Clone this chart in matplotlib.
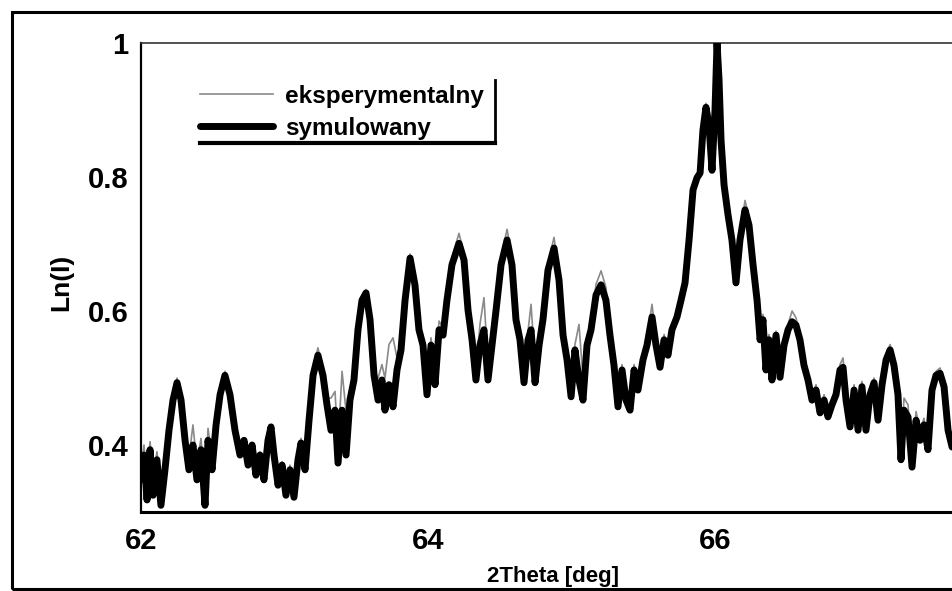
import matplotlib
matplotlib.use("Agg")
import matplotlib.pyplot as plt
from matplotlib.lines import Line2D
from matplotlib.patches import Rectangle

plt.rcParams['font.family'] = ['Liberation Sans', 'DejaVu Sans']
plt.rcParams['font.weight'] = 'bold'

# ---- data ----
two_theta = [
    62.000, 62.021, 62.042, 62.063, 62.084, 62.111, 62.139, 62.167, 62.195, 62.223,
    62.251, 62.279, 62.307, 62.334, 62.362, 62.390, 62.418, 62.446, 62.467, 62.495,
    62.523, 62.551, 62.585, 62.620, 62.655, 62.690, 62.718, 62.746, 62.774, 62.801,
    62.829, 62.857, 62.885, 62.906, 62.927, 62.955, 62.983, 63.010, 63.038, 63.066,
    63.094, 63.115, 63.143, 63.171, 63.199, 63.233, 63.268, 63.296, 63.324, 63.352,
    63.373, 63.401, 63.429, 63.456, 63.484, 63.512, 63.540, 63.568, 63.596, 63.624,
    63.652, 63.679, 63.700, 63.728, 63.756, 63.784, 63.812, 63.840, 63.875, 63.909,
    63.937, 63.965, 63.993, 64.021, 64.049, 64.077, 64.105, 64.132, 64.167, 64.216,
    64.251, 64.279, 64.307, 64.334, 64.362, 64.390, 64.418, 64.446, 64.474, 64.509,
    64.551, 64.585, 64.613, 64.641, 64.669, 64.697, 64.718, 64.746, 64.774, 64.801,
    64.836, 64.878, 64.913, 64.941, 64.969, 64.997, 65.024, 65.052, 65.080, 65.108,
    65.136, 65.171, 65.206, 65.240, 65.268, 65.296, 65.324, 65.352, 65.380, 65.408,
    65.436, 65.463, 65.498, 65.526, 65.561, 65.589, 65.617, 65.645, 65.672, 65.700,
    65.735, 65.763, 65.791, 65.819, 65.847, 65.875, 65.896, 65.916, 65.937, 65.958,
    65.979, 66.000, 66.014, 66.028, 66.042, 66.063, 66.091, 66.118, 66.146, 66.174,
    66.209, 66.237, 66.265, 66.293, 66.314, 66.334, 66.355, 66.376, 66.397, 66.425,
    66.453, 66.481, 66.509, 66.537, 66.564, 66.592, 66.620, 66.648, 66.676, 66.704,
    66.732, 66.760, 66.787, 66.815, 66.843, 66.871, 66.892, 66.913, 66.941, 66.969,
    66.997, 67.024, 67.052, 67.080, 67.108, 67.136, 67.164, 67.192, 67.220, 67.247,
    67.275, 67.296, 67.317, 67.345, 67.373, 67.401, 67.429, 67.456, 67.484, 67.512,
    67.540, 67.568, 67.596, 67.624, 67.652,
]

ln_sim = [
    0.348, 0.385, 0.318, 0.393, 0.325, 0.378, 0.310, 0.363, 0.422, 0.467,
    0.493, 0.467, 0.407, 0.363, 0.400, 0.348, 0.393, 0.310, 0.407, 0.363,
    0.430, 0.475, 0.504, 0.475, 0.422, 0.385, 0.407, 0.370, 0.400, 0.355,
    0.385, 0.348, 0.407, 0.427, 0.385, 0.340, 0.370, 0.325, 0.363, 0.322,
    0.378, 0.403, 0.363, 0.437, 0.504, 0.534, 0.504, 0.460, 0.422, 0.452,
    0.373, 0.452, 0.385, 0.467, 0.497, 0.572, 0.616, 0.627, 0.587, 0.504,
    0.467, 0.497, 0.452, 0.490, 0.457, 0.512, 0.542, 0.616, 0.679, 0.639,
    0.572, 0.549, 0.475, 0.549, 0.490, 0.572, 0.564, 0.616, 0.669, 0.701,
    0.676, 0.601, 0.557, 0.497, 0.549, 0.572, 0.497, 0.549, 0.601, 0.669,
    0.706, 0.669, 0.587, 0.557, 0.493, 0.557, 0.572, 0.493, 0.549, 0.587,
    0.661, 0.694, 0.646, 0.564, 0.527, 0.472, 0.542, 0.497, 0.467, 0.549,
    0.572, 0.624, 0.639, 0.616, 0.564, 0.519, 0.457, 0.512, 0.467, 0.452,
    0.512, 0.482, 0.527, 0.549, 0.591, 0.549, 0.516, 0.557, 0.534, 0.572,
    0.591, 0.616, 0.642, 0.706, 0.781, 0.799, 0.806, 0.870, 0.904, 0.878,
    0.810, 0.900, 1.000, 0.945, 0.855, 0.788, 0.743, 0.706, 0.642, 0.706,
    0.751, 0.728, 0.669, 0.616, 0.557, 0.587, 0.512, 0.557, 0.497, 0.564,
    0.501, 0.549, 0.572, 0.584, 0.579, 0.557, 0.519, 0.497, 0.467, 0.482,
    0.448, 0.467, 0.442, 0.460, 0.475, 0.512, 0.516, 0.467, 0.427, 0.482,
    0.422, 0.487, 0.422, 0.475, 0.493, 0.437, 0.490, 0.527, 0.542, 0.519,
    0.475, 0.378, 0.452, 0.442, 0.367, 0.437, 0.407, 0.430, 0.393, 0.482,
    0.504, 0.507, 0.487, 0.422, 0.397,
]

ln_exp = [
    0.365, 0.400, 0.340, 0.405, 0.350, 0.390, 0.330, 0.375, 0.430, 0.475,
    0.500, 0.470, 0.420, 0.380, 0.430, 0.370, 0.410, 0.330, 0.425, 0.380,
    0.435, 0.480, 0.510, 0.480, 0.425, 0.390, 0.410, 0.375, 0.400, 0.360,
    0.390, 0.355, 0.410, 0.430, 0.390, 0.350, 0.375, 0.335, 0.370, 0.330,
    0.385, 0.410, 0.370, 0.445, 0.515, 0.545, 0.510, 0.470, 0.470, 0.480,
    0.400, 0.510, 0.450, 0.480, 0.500, 0.575, 0.620, 0.632, 0.590, 0.510,
    0.500, 0.520, 0.500, 0.550, 0.560, 0.530, 0.550, 0.620, 0.685, 0.645,
    0.580, 0.560, 0.500, 0.560, 0.510, 0.585, 0.575, 0.625, 0.680, 0.716,
    0.685, 0.610, 0.570, 0.510, 0.580, 0.620, 0.520, 0.560, 0.610, 0.680,
    0.722, 0.680, 0.600, 0.570, 0.510, 0.570, 0.610, 0.520, 0.560, 0.600,
    0.670, 0.710, 0.655, 0.575, 0.540, 0.490, 0.550, 0.580, 0.500, 0.560,
    0.585, 0.640, 0.660, 0.635, 0.575, 0.530, 0.470, 0.520, 0.480, 0.465,
    0.520, 0.490, 0.535, 0.560, 0.610, 0.560, 0.525, 0.565, 0.540, 0.580,
    0.600, 0.625, 0.650, 0.715, 0.790, 0.805, 0.810, 0.875, 0.910, 0.885,
    0.815, 0.905, 1.000, 0.950, 0.860, 0.795, 0.750, 0.715, 0.650, 0.715,
    0.765, 0.740, 0.675, 0.620, 0.565, 0.595, 0.520, 0.565, 0.505, 0.570,
    0.510, 0.555, 0.580, 0.600, 0.590, 0.565, 0.525, 0.505, 0.475, 0.490,
    0.455, 0.475, 0.450, 0.470, 0.485, 0.520, 0.530, 0.475, 0.435, 0.490,
    0.430, 0.495, 0.430, 0.480, 0.500, 0.445, 0.500, 0.535, 0.550, 0.525,
    0.480, 0.390, 0.470, 0.460, 0.380, 0.450, 0.420, 0.440, 0.400, 0.490,
    0.510, 0.515, 0.495, 0.430, 0.405,
]

series_labels = ["eksperymentalny", "symulowany"]
x_ticks = [62, 64, 66]
x_tick_labels = ["62", "64", "66"]
y_ticks = [0.4, 0.6, 0.8, 1.0]
y_tick_labels = ["0.4", "0.6", "0.8", "1"]

assert len(two_theta) == len(ln_sim) == len(ln_exp)

W, H = 952, 591
fig = plt.figure(figsize=(W / 100, H / 100), dpi=100)
fig.patch.set_facecolor("white")

# outer frame of the figure (extends past the right edge, as in the scan)
fig.patches.append(Rectangle((12 / W, 1 - 589 / H), 1.2, (589 - 12) / H,
                             transform=fig.transFigure, fill=False,
                             edgecolor="black", linewidth=2.2, zorder=0))

ax_left, ax_right, ax_top, ax_bottom = 141, 965, 43, 512
ax = fig.add_axes([ax_left / W, 1 - ax_bottom / H,
                   (ax_right - ax_left) / W, (ax_bottom - ax_top) / H])

l_exp, = ax.plot(two_theta, ln_exp, color="#8a8a8a", linewidth=1.2, zorder=2)
l_sim, = ax.plot(two_theta, ln_sim, color="black", linewidth=5.0, zorder=3,
                 solid_joinstyle="round", solid_capstyle="round")

ax.set_xlim(62, 67.742)
ax.set_ylim(0.3, 1.0)
ax.set_xticks(x_ticks)
ax.set_xticklabels(x_tick_labels)
ax.set_yticks(y_ticks)
ax.set_yticklabels(y_tick_labels)
ax.tick_params(axis="both", length=0, labelsize=21)
ax.tick_params(axis="x", pad=11)
ax.tick_params(axis="y", pad=9)
for t in ax.get_xticklabels() + ax.get_yticklabels():
    t.set_fontweight("bold")

ax.spines["right"].set_visible(False)
ax.spines["left"].set_linewidth(1.6)
ax.spines["bottom"].set_linewidth(2.2)
ax.spines["top"].set_linewidth(1.2)
ax.spines["top"].set_color("#333333")

ax.set_xlabel("2Theta [deg]", fontsize=16, fontweight="bold")
ax.xaxis.set_label_coords((553 - ax_left) / (ax_right - ax_left),
                          -(566 - ax_bottom) / (ax_bottom - ax_top))
ax.set_ylabel("Ln(I)", fontsize=19, fontweight="bold")
ax.yaxis.set_label_coords(-(ax_left - 73) / (ax_right - ax_left), 0.49)

leg = ax.legend([l_exp, l_sim], series_labels, loc="upper left",
                bbox_to_anchor=(200 / W, 1 - 85 / H),
                bbox_transform=fig.transFigure, frameon=False,
                prop={"size": 17.5, "weight": "bold"}, handlelength=3.0,
                handletextpad=0.5, labelspacing=0.35, borderpad=0,
                borderaxespad=0)

# partial legend box (bottom and right borders)
fig.lines.append(Line2D([200 / W, 495 / W], [1 - 143 / H, 1 - 143 / H],
                        transform=fig.transFigure, color="black", linewidth=3.0))
fig.lines.append(Line2D([495 / W, 495 / W], [1 - 80 / H, 1 - 143 / H],
                        transform=fig.transFigure, color="black", linewidth=2.0))

fig.savefig("out.png", dpi=100, facecolor="white")
